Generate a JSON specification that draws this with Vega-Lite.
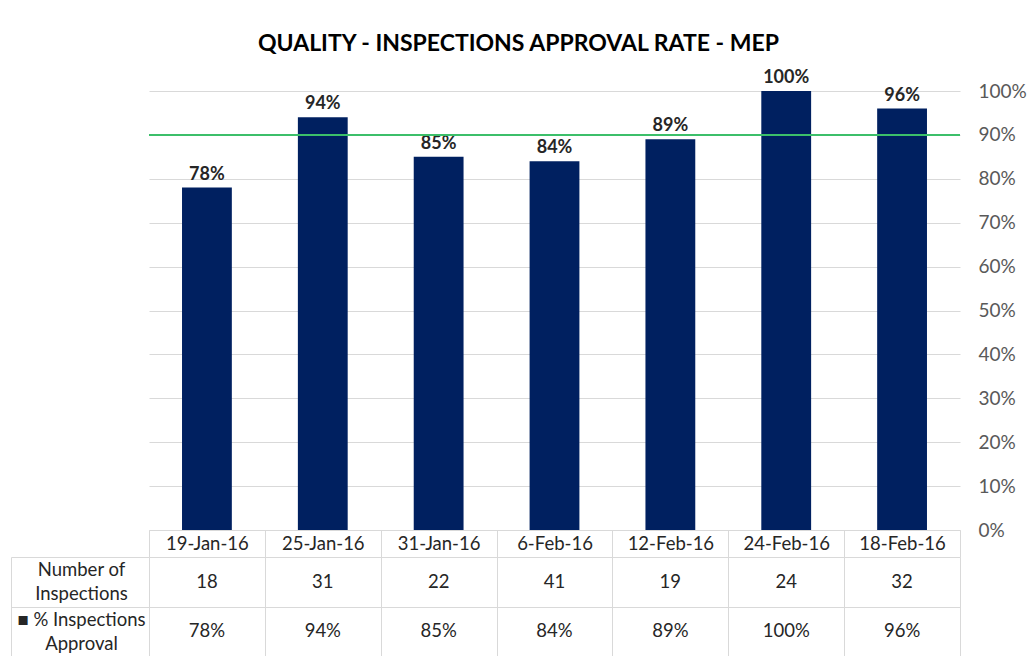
{
  "$schema": "https://vega.github.io/schema/vega-lite/v6.json",
  "padding": {"left": 10, "top": 33, "right": 0, "bottom": 0},
  "background": "white",
  "title": {"text": "QUALITY - INSPECTIONS APPROVAL RATE - MEP", "font": "Lato", "fontSize": 23, "fontWeight": "bold", "color": "#000000", "anchor": "middle", "frame": "bounds", "offset": 13},
  "config": {"font": "Lato", "view": {"stroke": null}},
  "datasets": {
    "rows": [
      {"date": "19-Jan-16", "inspections": 18, "approval": 0.78},
      {"date": "25-Jan-16", "inspections": 31, "approval": 0.94},
      {"date": "31-Jan-16", "inspections": 22, "approval": 0.85},
      {"date": "6-Feb-16", "inspections": 41, "approval": 0.84},
      {"date": "12-Feb-16", "inspections": 19, "approval": 0.89},
      {"date": "24-Feb-16", "inspections": 24, "approval": 1.0},
      {"date": "18-Feb-16", "inspections": 32, "approval": 0.96}
    ]
  },
  "bounds": "flush",
  "spacing": 27,
  "vconcat": [
    {
      "width": 811,
      "height": 439,
      "layer": [
        {
          "data": {"name": "rows"},
          "mark": {"type": "bar", "color": "#002060", "width": {"band": 0.43}},
          "encoding": {
            "x": {"field": "date", "type": "nominal", "sort": null, "scale": {"paddingInner": 0, "paddingOuter": 0},
              "axis": {"title": null, "orient": "bottom", "tickBand": "extent", "ticks": true, "tickSize": 27, "tickColor": "#d9d9d9", "tickWidth": 1, "domain": true, "domainColor": "#d9d9d9", "labelFont": "Lato", "labelFontSize": 18.5, "labelColor": "#262626", "labelBaseline": "middle", "labelPadding": -13.5, "labelAngle": 0}},
            "y": {"field": "approval", "type": "quantitative", "scale": {"domain": [0, 1]},
              "axis": {"orient": "right", "title": null, "format": ".0%", "values": [0, 0.1, 0.2, 0.3, 0.4, 0.5, 0.6, 0.7, 0.8, 0.9, 1], "grid": true, "gridColor": "#d9d9d9", "ticks": false, "domain": false, "labelFont": "Lato", "labelFontSize": 19, "labelColor": "#595959", "labelPadding": 18}}
          }
        },
        {
          "data": {"name": "rows"},
          "mark": {"type": "text", "baseline": "bottom", "dy": -4, "fontWeight": "bold", "fontSize": 18, "color": "#262626"},
          "encoding": {
            "x": {"field": "date", "type": "nominal", "sort": null},
            "y": {"field": "approval", "type": "quantitative"},
            "text": {"field": "approval", "format": ".0%"}
          }
        },
        {
          "data": {"values": [{"target": 0.9}]},
          "mark": {"type": "rule", "color": "#3CBF6A", "strokeWidth": 2},
          "encoding": {"y": {"field": "target", "type": "quantitative"}}
        }
      ]
    },
    {
      "width": 811,
      "height": 99,
      "data": {"name": "rows"},
      "layer": [
        {
          "mark": {"type": "text", "fontSize": 18.5, "color": "#262626"},
          "encoding": {
            "x": {"field": "date", "type": "nominal", "sort": null, "scale": {"paddingInner": 0, "paddingOuter": 0},
              "axis": {"title": null, "labels": false, "ticks": false, "domain": false, "grid": true, "tickBand": "extent", "gridColor": "#d9d9d9"}},
            "y": {"datum": "Number of Inspections", "type": "nominal", "scale": {"domain": ["Number of Inspections", "% Inspections Approval"], "paddingInner": 0, "paddingOuter": 0},
              "axis": {"title": null, "orient": "left", "offset": 138, "tickBand": "extent", "ticks": true, "tickSize": -138, "tickColor": "#d9d9d9", "domain": true, "domainColor": "#d9d9d9", "grid": true, "gridColor": "#d9d9d9", "labelAlign": "center", "labelBaseline": "middle", "labelPadding": 68, "labelOffset": -12, "labelFont": "Lato", "labelFontSize": 18.5, "labelColor": "#262626", "labelLineHeight": 24, "labelLimit": 0,
                "labelExpr": "datum.value == 'Number of Inspections' ? ['Number of', 'Inspections'] : datum.value == '% Inspections Approval' ? ['■ % Inspections', '    Approval'] : ''"}},
            "text": {"field": "inspections", "type": "quantitative"}
          }
        },
        {
          "mark": {"type": "text", "fontSize": 18.5, "color": "#262626"},
          "encoding": {
            "x": {"field": "date", "type": "nominal", "sort": null},
            "y": {"datum": "% Inspections Approval", "type": "nominal"},
            "text": {"field": "approval", "type": "quantitative", "format": ".0%"}
          }
        }
      ]
    }
  ]
}
